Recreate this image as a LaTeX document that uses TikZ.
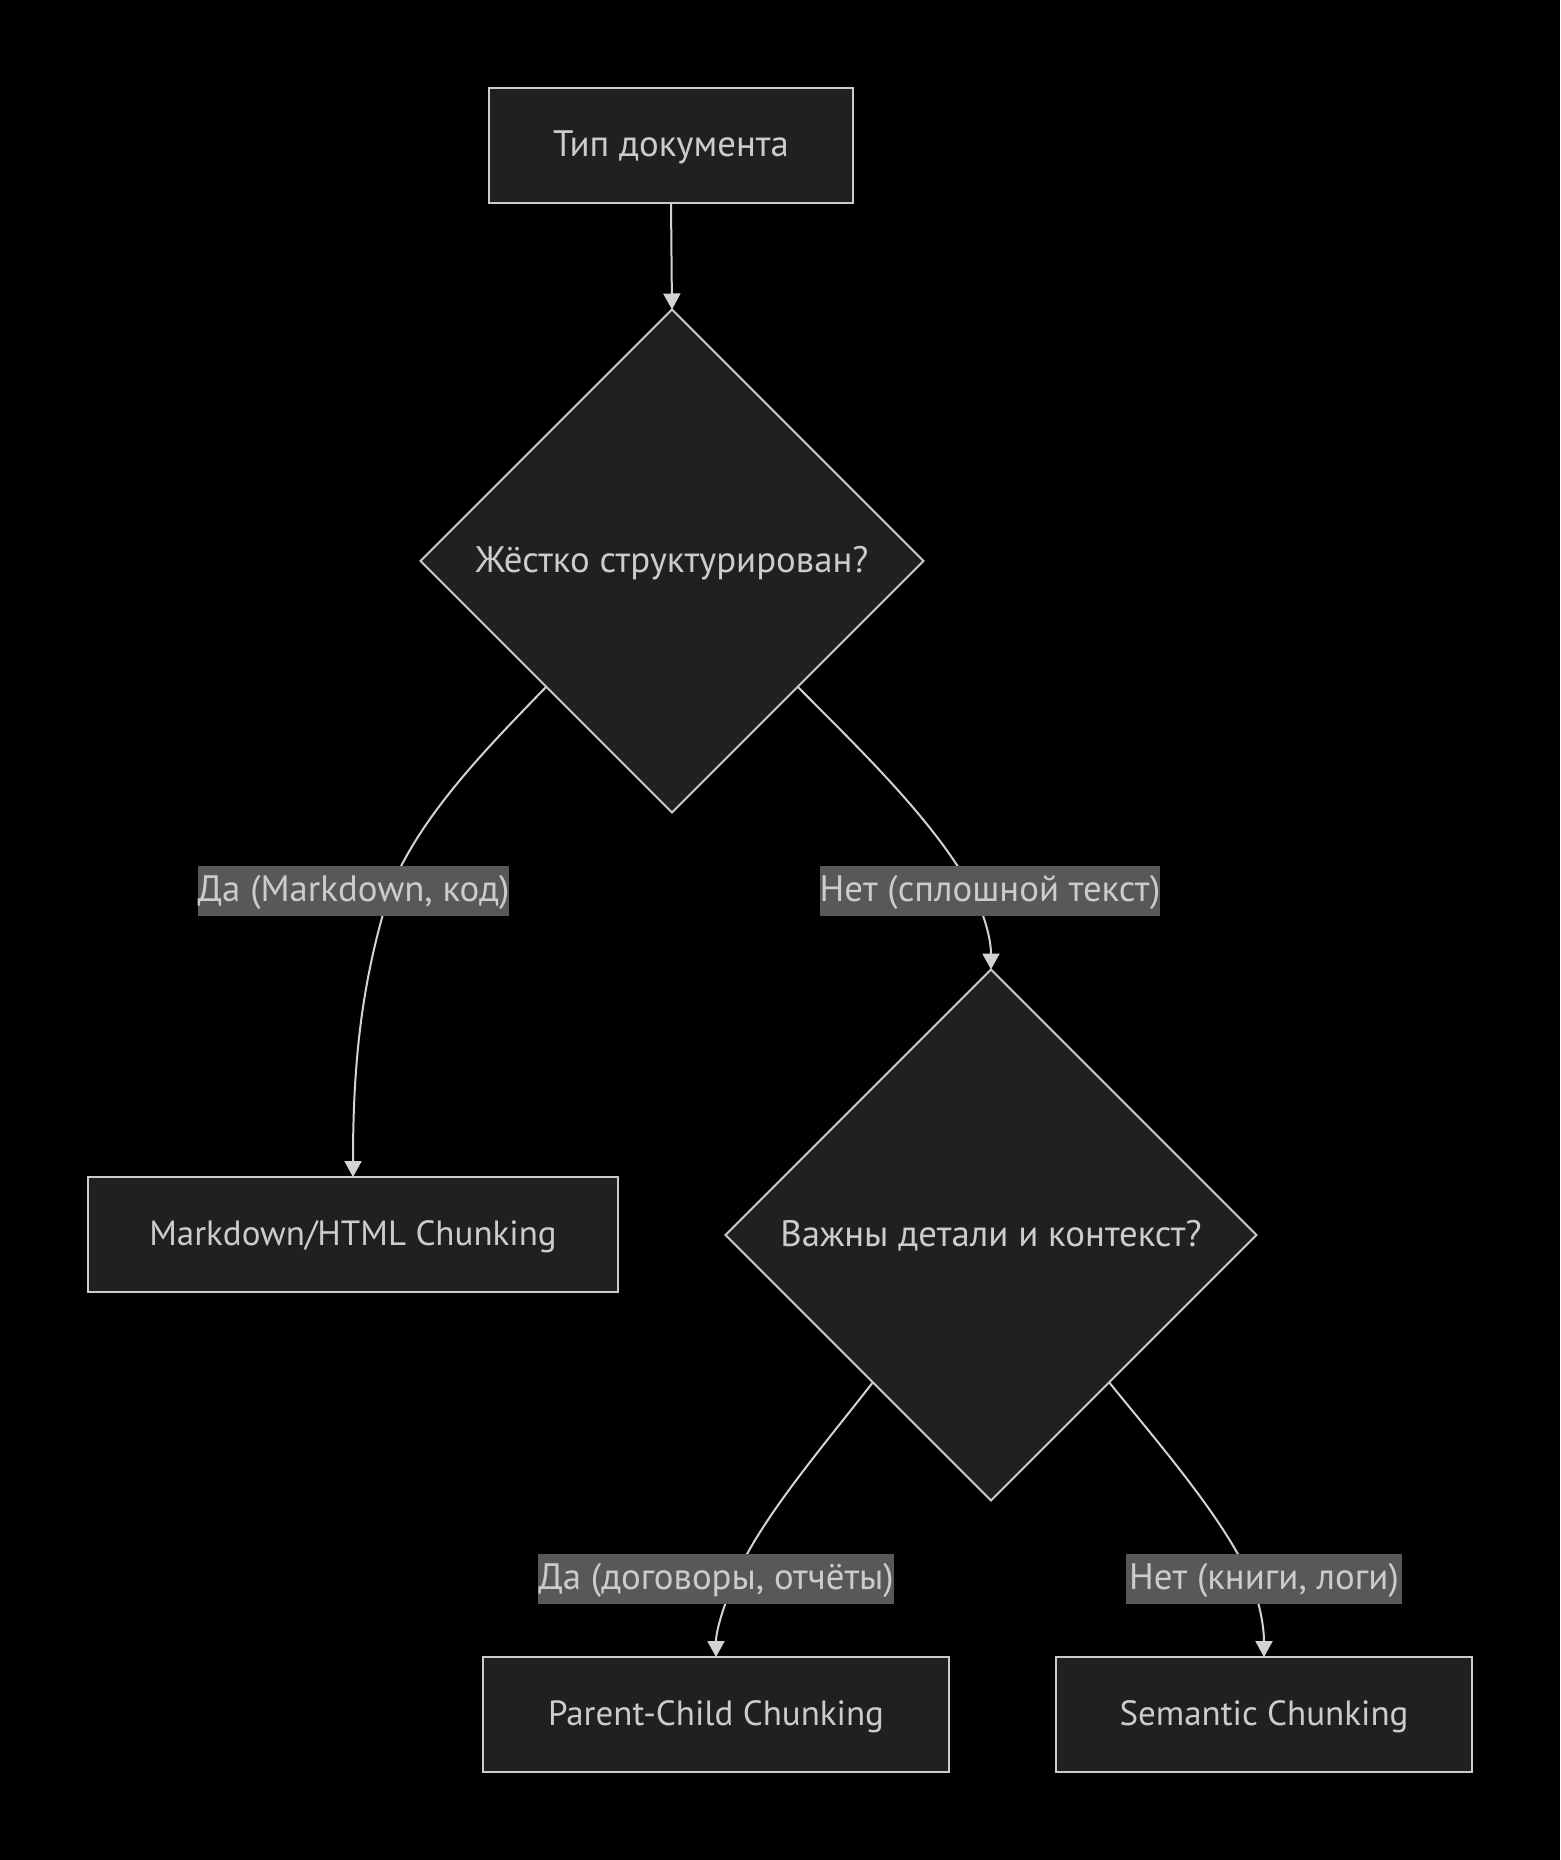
\documentclass[tikz,border=0pt]{standalone}
\usepackage{fontspec}
\setmainfont{PT Sans}
\usetikzlibrary{shapes.geometric,arrows.meta,calc}
\definecolor{nodefill}{HTML}{1F2020}
\definecolor{nodeline}{HTML}{CCCCCC}
\definecolor{txt}{HTML}{CCCCCC}
\definecolor{edgecol}{HTML}{D3D3D3}
\definecolor{lblbg}{HTML}{585858}
\pgfdeclarelayer{bg}
\pgfdeclarelayer{edges}
\pgfsetlayers{bg,edges,main}
\tikzset{
  base/.style={font=\fontsize{18.4}{22}\selectfont, text=txt, inner sep=0pt, outer sep=0pt, text height=14pt, text depth=3pt},
  box/.style={base, rectangle, draw=nodeline, fill=nodefill, line width=1pt, minimum height=57.5pt},
  latinbox/.style={box, font=\fontsize{17.5}{21}\selectfont},
  decision/.style={base, diamond, aspect=1, draw=nodeline, fill=nodefill, line width=1pt},
  elabel/.style={base, rectangle, fill=lblbg, minimum height=25pt},
  conn/.style={draw=edgecol, line width=1pt, -{Triangle[length=8pt,width=8.5pt]}}
}
\begin{document}
\begin{tikzpicture}[x=0.5pt,y=-0.5pt]
\begin{pgfonlayer}{bg}
  \fill[black] (0,0) rectangle (1560,1860);
\end{pgfonlayer}
\useasboundingbox (0,0) rectangle (1560,1860);

\node[box, minimum width=182pt] (A) at (671,145.5) {Тип документа};
\node[decision, minimum width=251.5pt, minimum height=251.5pt] (B) at (672,561) {Жёстко структурирован?};
\node[latinbox, minimum width=265pt] (D) at (353,1234.5) {Markdown/HTML Chunking};
\node[decision, minimum width=265.5pt, minimum height=265.5pt] (C) at (991,1235) {Важны детали и контекст?};
\node[latinbox, minimum width=233pt] (E) at (716,1714.5) {Parent-Child Chunking};
\node[latinbox, minimum width=208pt] (F) at (1264,1714.5) {Semantic Chunking};

\node[elabel, minimum width=155pt] (L1) at (353.5,890.5) {Да (Markdown, код)};
\node[elabel, minimum width=170pt] (L2) at (990,890.5) {Нет (сплошной текст)};
\node[elabel, minimum width=178pt] (L3) at (716,1578.5) {Да (договоры, отчёты)};
\node[elabel, minimum width=138pt] (L4) at (1264,1578.5) {Нет (книги, логи)};

\begin{pgfonlayer}{edges}
  \draw[conn] (A.south) -- (B.north);
  \draw[conn] (B.south west) .. controls (490,745) and (420,815) .. ($(L1.center)+(36.5,0)$)
              .. controls (362,980) and (353,1060) .. (D.north);
  \draw[conn] (B.south east) .. controls (850,740) and (935,820) .. ($(L2.center)+(-18,0)$)
              .. controls (985,915) and (991,940) .. (C.north);
  \draw[conn] ($(C.south west)!0.11!(C.south)$) .. controls (820,1450) and (760,1520) .. ($(L3.center)+(19,0)$)
              .. controls (724,1605) and (716,1630) .. (E.north);
  \draw[conn] ($(C.south east)!0.11!(C.south)$) .. controls (1160,1445) and (1225,1520) .. ($(L4.center)+(-14,0)$)
              .. controls (1261,1605) and (1264,1630) .. (F.north);
\end{pgfonlayer}
\end{tikzpicture}
\end{document}
